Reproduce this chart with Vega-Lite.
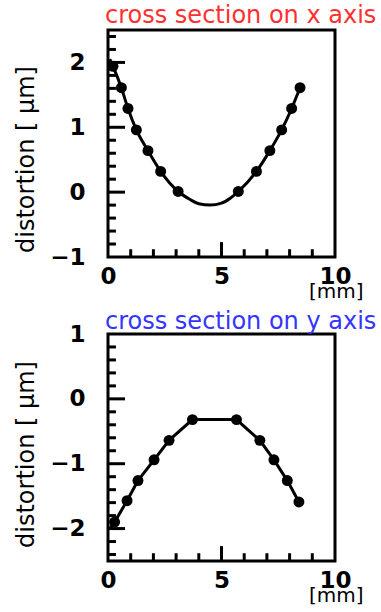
{
  "$schema": "https://vega.github.io/schema/vega-lite/v6.json",
  "padding": {"left": 12, "top": 2, "right": 0, "bottom": 0},
  "datasets": {
    "top": [
      {"x": 0.08, "y": 2.05, "kind": "c"},
      {"x": 0.22, "y": 1.94, "kind": "p"},
      {"x": 0.59, "y": 1.61, "kind": "p"},
      {"x": 0.88, "y": 1.29, "kind": "p"},
      {"x": 1.25, "y": 0.96, "kind": "p"},
      {"x": 1.76, "y": 0.64, "kind": "p"},
      {"x": 2.32, "y": 0.32, "kind": "p"},
      {"x": 3.09, "y": 0.01, "kind": "p"},
      {"x": 3.6, "y": -0.11, "kind": "c"},
      {"x": 4.0, "y": -0.18, "kind": "c"},
      {"x": 4.5, "y": -0.2, "kind": "c"},
      {"x": 5.0, "y": -0.17, "kind": "c"},
      {"x": 5.4, "y": -0.09, "kind": "c"},
      {"x": 5.74, "y": 0.01, "kind": "p"},
      {"x": 6.54, "y": 0.32, "kind": "p"},
      {"x": 7.13, "y": 0.64, "kind": "p"},
      {"x": 7.65, "y": 0.96, "kind": "p"},
      {"x": 8.09, "y": 1.29, "kind": "p"},
      {"x": 8.46, "y": 1.61, "kind": "p"}
    ],
    "bottom": [
      {"x": 0.08, "y": -2.0, "kind": "c"},
      {"x": 0.29, "y": -1.9, "kind": "p"},
      {"x": 0.84, "y": -1.57, "kind": "p"},
      {"x": 1.32, "y": -1.26, "kind": "p"},
      {"x": 2.03, "y": -0.94, "kind": "p"},
      {"x": 2.69, "y": -0.64, "kind": "p"},
      {"x": 3.72, "y": -0.32, "kind": "p"},
      {"x": 5.66, "y": -0.32, "kind": "p"},
      {"x": 6.69, "y": -0.64, "kind": "p"},
      {"x": 7.31, "y": -0.94, "kind": "p"},
      {"x": 7.9, "y": -1.26, "kind": "p"},
      {"x": 8.41, "y": -1.59, "kind": "p"}
    ],
    "ticksTop": [
      {"axis": "x", "kind": "major", "v": 5},
      {"axis": "x", "kind": "minor", "v": 1}, {"axis": "x", "kind": "minor", "v": 2},
      {"axis": "x", "kind": "minor", "v": 3}, {"axis": "x", "kind": "minor", "v": 4},
      {"axis": "x", "kind": "minor", "v": 6}, {"axis": "x", "kind": "minor", "v": 7},
      {"axis": "x", "kind": "minor", "v": 8}, {"axis": "x", "kind": "minor", "v": 9},
      {"axis": "y", "kind": "major", "v": 0}, {"axis": "y", "kind": "major", "v": 1},
      {"axis": "y", "kind": "major", "v": 2},
      {"axis": "y", "kind": "minor", "v": -0.8}, {"axis": "y", "kind": "minor", "v": -0.6},
      {"axis": "y", "kind": "minor", "v": -0.4}, {"axis": "y", "kind": "minor", "v": -0.2},
      {"axis": "y", "kind": "minor", "v": 0.2}, {"axis": "y", "kind": "minor", "v": 0.4},
      {"axis": "y", "kind": "minor", "v": 0.6}, {"axis": "y", "kind": "minor", "v": 0.8},
      {"axis": "y", "kind": "minor", "v": 1.2}, {"axis": "y", "kind": "minor", "v": 1.4},
      {"axis": "y", "kind": "minor", "v": 1.6}, {"axis": "y", "kind": "minor", "v": 1.8},
      {"axis": "y", "kind": "minor", "v": 2.2}, {"axis": "y", "kind": "minor", "v": 2.4}
    ],
    "ticksBottom": [
      {"axis": "x", "kind": "major", "v": 5},
      {"axis": "x", "kind": "minor", "v": 1}, {"axis": "x", "kind": "minor", "v": 2},
      {"axis": "x", "kind": "minor", "v": 3}, {"axis": "x", "kind": "minor", "v": 4},
      {"axis": "x", "kind": "minor", "v": 6}, {"axis": "x", "kind": "minor", "v": 7},
      {"axis": "x", "kind": "minor", "v": 8}, {"axis": "x", "kind": "minor", "v": 9},
      {"axis": "y", "kind": "major", "v": -2}, {"axis": "y", "kind": "major", "v": -1},
      {"axis": "y", "kind": "major", "v": 0},
      {"axis": "y", "kind": "minor", "v": -2.4}, {"axis": "y", "kind": "minor", "v": -2.2},
      {"axis": "y", "kind": "minor", "v": -1.8}, {"axis": "y", "kind": "minor", "v": -1.6},
      {"axis": "y", "kind": "minor", "v": -1.4}, {"axis": "y", "kind": "minor", "v": -1.2},
      {"axis": "y", "kind": "minor", "v": -0.8}, {"axis": "y", "kind": "minor", "v": -0.6},
      {"axis": "y", "kind": "minor", "v": -0.4}, {"axis": "y", "kind": "minor", "v": -0.2},
      {"axis": "y", "kind": "minor", "v": 0.2}, {"axis": "y", "kind": "minor", "v": 0.4},
      {"axis": "y", "kind": "minor", "v": 0.6}, {"axis": "y", "kind": "minor", "v": 0.8}
    ]
  },
  "config": {
    "view": {"stroke": "black", "strokeWidth": 3},
    "font": "DejaVu Sans",
    "axis": {
      "grid": false, "domain": false, "ticks": false, "tickSize": 0,
      "labelColor": "black", "titleColor": "black", "labelFont": "DejaVu Sans",
      "labelFontWeight": "bold", "labelFontSize": 23, "titleFont": "DejaVu Sans",
      "titleFontWeight": "normal", "labelFlush": false, "labelOverlap": false, "labelBound": false
    }
  },
  "spacing": 77,
  "bounds": "flush",
  "vconcat": [
    {
      "width": 227, "height": 227,
      "title": {"text": "cross section on x axis", "color": "#ff3030", "fontSize": 24, "fontWeight": "normal", "font": "DejaVu Sans", "anchor": "start", "frame": "group", "dx": -3, "offset": -17, "baseline": "alphabetic"},
      "layer": [
        {
          "data": {"name": "ticksTop"},
          "transform": [{"filter": "datum.axis == 'y' && datum.kind == 'major'"}],
          "mark": {"type": "rule", "color": "#000000", "strokeWidth": 3},
          "encoding": {"x": {"datum": 0, "type": "quantitative"}, "x2": {"datum": 0.75}, "y": {"field": "v", "type": "quantitative"}}
        },
        {
          "data": {"name": "ticksTop"},
          "transform": [{"filter": "datum.axis == 'y' && datum.kind == 'minor'"}],
          "mark": {"type": "rule", "color": "#000000", "strokeWidth": 3},
          "encoding": {"x": {"datum": 0, "type": "quantitative"}, "x2": {"datum": 0.35}, "y": {"field": "v", "type": "quantitative"}}
        },
        {
          "data": {"name": "ticksTop"},
          "transform": [{"filter": "datum.axis == 'x' && datum.kind == 'major'"}],
          "mark": {"type": "rule", "color": "#000000", "strokeWidth": 3},
          "encoding": {"x": {"field": "v", "type": "quantitative"}, "y": {"datum": -1, "type": "quantitative"}, "y2": {"datum": -0.77}}
        },
        {
          "data": {"name": "ticksTop"},
          "transform": [{"filter": "datum.axis == 'x' && datum.kind == 'minor'"}],
          "mark": {"type": "rule", "color": "#000000", "strokeWidth": 3},
          "encoding": {"x": {"field": "v", "type": "quantitative"}, "y": {"datum": -1, "type": "quantitative"}, "y2": {"datum": -0.88}}
        },
        {
          "data": {"name": "top"},
          "mark": {"type": "line", "interpolate": "monotone", "color": "black", "strokeWidth": 3},
          "encoding": {
            "x": {"field": "x", "type": "quantitative", "scale": {"domain": [0, 10], "nice": false},
              "axis": {"orient": "bottom", "values": [0, 5, 10], "labelPadding": 8, "title": "[mm]", "titleFontSize": 20, "titleX": 255, "titleY": 24, "titleAlign": "right", "titleBaseline": "top"}},
            "y": {"field": "y", "type": "quantitative", "scale": {"domain": [-1, 2.5], "nice": false, "zero": false},
              "axis": {"orient": "left", "values": [-1, 0, 1, 2], "format": "d", "labelPadding": 23, "title": "distortion [ µm]", "titleFontSize": 24, "titleAngle": -90, "titleX": -75, "titleY": 129, "titleAlign": "center", "titleBaseline": "alphabetic"}}
          }
        },
        {
          "data": {"name": "top"},
          "transform": [{"filter": "datum.kind == 'p'"}],
          "mark": {"type": "circle", "size": 120, "color": "black", "opacity": 1},
          "encoding": {
            "x": {"field": "x", "type": "quantitative"},
            "y": {"field": "y", "type": "quantitative"}
          }
        }
      ]
    },
    {
      "width": 227, "height": 227,
      "title": {"text": "cross section on y axis", "color": "#3535ff", "fontSize": 24, "fontWeight": "normal", "font": "DejaVu Sans", "anchor": "start", "frame": "group", "dx": -3, "offset": -30, "baseline": "alphabetic"},
      "layer": [
        {
          "data": {"name": "ticksBottom"},
          "transform": [{"filter": "datum.axis == 'y' && datum.kind == 'major'"}],
          "mark": {"type": "rule", "color": "#000000", "strokeWidth": 3},
          "encoding": {"x": {"datum": 0, "type": "quantitative"}, "x2": {"datum": 0.75}, "y": {"field": "v", "type": "quantitative"}}
        },
        {
          "data": {"name": "ticksBottom"},
          "transform": [{"filter": "datum.axis == 'y' && datum.kind == 'minor'"}],
          "mark": {"type": "rule", "color": "#000000", "strokeWidth": 3},
          "encoding": {"x": {"datum": 0, "type": "quantitative"}, "x2": {"datum": 0.35}, "y": {"field": "v", "type": "quantitative"}}
        },
        {
          "data": {"name": "ticksBottom"},
          "transform": [{"filter": "datum.axis == 'x' && datum.kind == 'major'"}],
          "mark": {"type": "rule", "color": "#000000", "strokeWidth": 3},
          "encoding": {"x": {"field": "v", "type": "quantitative"}, "y": {"datum": -2.5, "type": "quantitative"}, "y2": {"datum": -2.27}}
        },
        {
          "data": {"name": "ticksBottom"},
          "transform": [{"filter": "datum.axis == 'x' && datum.kind == 'minor'"}],
          "mark": {"type": "rule", "color": "#000000", "strokeWidth": 3},
          "encoding": {"x": {"field": "v", "type": "quantitative"}, "y": {"datum": -2.5, "type": "quantitative"}, "y2": {"datum": -2.38}}
        },
        {
          "data": {"name": "bottom"},
          "mark": {"type": "line", "interpolate": "linear", "color": "black", "strokeWidth": 3},
          "encoding": {
            "x": {"field": "x", "type": "quantitative", "scale": {"domain": [0, 10], "nice": false},
              "axis": {"orient": "bottom", "values": [0, 5, 10], "labelPadding": 8, "title": "[mm]", "titleFontSize": 20, "titleX": 255, "titleY": 24, "titleAlign": "right", "titleBaseline": "top"}},
            "y": {"field": "y", "type": "quantitative", "scale": {"domain": [-2.5, 1], "nice": false, "zero": false},
              "axis": {"orient": "left", "values": [-2, -1, 0, 1], "format": "d", "labelPadding": 23, "title": "distortion [ µm]", "titleFontSize": 24, "titleAngle": -90, "titleX": -75, "titleY": 120, "titleAlign": "center", "titleBaseline": "alphabetic"}}
          }
        },
        {
          "data": {"name": "bottom"},
          "transform": [{"filter": "datum.kind == 'p'"}],
          "mark": {"type": "circle", "size": 120, "color": "black", "opacity": 1},
          "encoding": {
            "x": {"field": "x", "type": "quantitative"},
            "y": {"field": "y", "type": "quantitative"}
          }
        }
      ]
    }
  ]
}
